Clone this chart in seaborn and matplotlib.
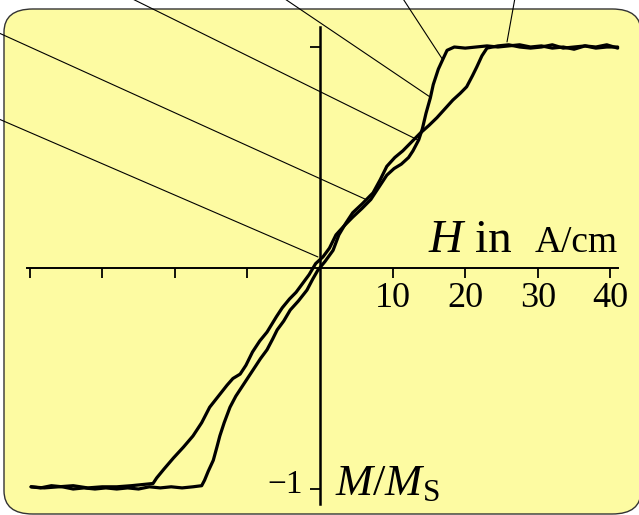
import numpy as np
import pandas as pd
import matplotlib
matplotlib.use("Agg")
from matplotlib import pyplot as plt
from matplotlib.patches import FancyBboxPatch
import seaborn as sns

# hysteresis loop (H in A/cm, M/Ms)
H_down = [41.0, 39.5, 38.0, 36.5, 35.0, 33.5, 32.0, 30.5, 29.0, 27.5, 26.0, 24.5, 23.0, 21.5,
          20.0, 18.5, 17.5, 17.0, 16.3, 15.6, 15.2, 14.6, 14.1, 13.6, 12.8, 12.2, 11.2, 10.2,
          9.2, 8.2, 7.0, 5.8, 4.5, 3.3, 2.2, 1.3, 0.4, -0.6, -1.5, -2.4, -3.3, -4.2, -5.2,
          -6.0, -7.3, -8.3, -9.3, -10.2, -11.0, -12.0, -12.8, -14.0, -15.2, -16.3, -17.5,
          -18.8, -20.2, -21.5, -22.5, -23.0, -24.5, -26.0, -28.0, -30.0, -32.0, -34.0, -36.0,
          -38.0, -39.8]
M_down = [0.995, 1.01, 1.0, 1.005, 0.99, 1.0, 0.995, 1.005, 1.0, 1.01, 1.005, 1.0, 1.005, 1.0,
          0.995, 1.0, 0.985, 0.95, 0.90, 0.83, 0.77, 0.70, 0.63, 0.58, 0.53, 0.50, 0.47, 0.45,
          0.42, 0.37, 0.31, 0.27, 0.23, 0.19, 0.15, 0.09, 0.05, 0.02, -0.03, -0.07, -0.11,
          -0.14, -0.18, -0.22, -0.29, -0.33, -0.38, -0.44, -0.48, -0.50, -0.53, -0.58, -0.63,
          -0.70, -0.76, -0.81, -0.86, -0.91, -0.95, -0.975, -0.98, -0.985, -0.99, -0.99,
          -0.995, -0.985, -0.99, -0.995, -0.99]

H_up = [-39.8, -38.5, -37.0, -35.5, -34.0, -32.5, -31.0, -29.5, -28.0, -26.5, -25.0, -23.5,
        -22.0, -20.5, -19.0, -17.5, -16.3, -15.9, -15.4, -14.7, -14.2, -13.8, -13.2, -12.4,
        -11.6, -11.0, -10.0, -9.2, -8.2, -7.3, -6.5, -5.9, -5.0, -4.1, -3.0, -1.8, -1.0, -0.3,
        0.7, 1.8, 2.6, 3.5, 4.5, 5.8, 7.3, 8.3, 9.2, 10.3, 11.4, 12.6, 13.8, 15.0, 16.1, 17.2,
        18.3, 19.3, 20.2, 21.0, 21.6, 22.3, 23.0, 24.5, 26.0, 27.5, 29.0, 30.5, 32.0, 33.5,
        35.0, 36.5, 38.0, 39.5, 41.0]
M_up = [-0.99, -0.995, -0.985, -0.99, -1.0, -0.995, -1.0, -0.995, -1.0, -0.995, -1.0, -0.99,
        -0.995, -0.99, -0.995, -0.99, -0.985, -0.96, -0.92, -0.87, -0.81, -0.76, -0.70, -0.63,
        -0.58, -0.55, -0.50, -0.46, -0.41, -0.37, -0.32, -0.28, -0.24, -0.19, -0.15, -0.10,
        -0.05, -0.01, 0.03, 0.08, 0.15, 0.20, 0.25, 0.29, 0.34, 0.40, 0.46, 0.50, 0.53, 0.57,
        0.61, 0.645, 0.68, 0.72, 0.76, 0.79, 0.82, 0.87, 0.91, 0.96, 0.995, 1.005, 1.01, 1.0,
        0.995, 1.0, 1.01, 0.995, 1.0, 1.005, 0.995, 1.0, 1.0]

x_ticks = [-40, -30, -20, -10, 10, 20, 30, 40]
x_tick_labels = ["", "", "", "", "10", "20", "30", "40"]
y_ticks = [-1, 1]

# leader lines: (start H, start M) -> (point on the loop)
leader_start = [(-26.6, 1.23), (-5.4, 1.23), (11.2, 1.23), (26.9, 1.23), (-45.0, 1.075), (-45.0, 0.685)]
leader_end = [(13.5, 0.579), (15.15, 0.774), (16.94, 0.941), (25.76, 1.023), (6.47, 0.308), (-0.28, 0.05)]

df = pd.concat([
    pd.DataFrame({"H": H_down, "M": M_down, "branch": "down"}),
    pd.DataFrame({"H": H_up, "M": M_up, "branch": "up"}),
])

sns.set_theme(style="white")
plt.rcParams["font.family"] = ["Liberation Serif", "DejaVu Serif"]
plt.rcParams["mathtext.fontset"] = "custom"
plt.rcParams["mathtext.rm"] = "Liberation Serif"
plt.rcParams["mathtext.it"] = "Liberation Serif:italic"
plt.rcParams["text.color"] = "black"

fig = plt.figure(figsize=(6.39, 5.15), dpi=100, facecolor="white")
box = FancyBboxPatch((4 / 639, 1 / 515), 637 / 639, 505 / 515,
                     boxstyle="round,pad=0,rounding_size=0.045",
                     transform=fig.transFigure, facecolor="#fdfba2",
                     edgecolor="#333333", linewidth=1.0, zorder=-10)
fig.patches.append(box)

ax = fig.add_axes([0, 0, 1, 1])
ax.patch.set_alpha(0)
ax.set_xlim(-44.08, 43.94)
ax.set_ylim(-1.1176, 1.2127)

sns.lineplot(data=df, x="H", y="M", units="branch", estimator=None, sort=False,
             color="black", linewidth=2.3, ax=ax, zorder=3)

for (xs, ys), (xe, ye) in zip(leader_start, leader_end):
    ax.plot([xs, xe], [ys, ye], color="black", linewidth=0.8, clip_on=False, zorder=4)

# axes through the origin
for side in ["top", "right"]:
    ax.spines[side].set_visible(False)
ax.spines["left"].set_position(("data", 0))
ax.spines["bottom"].set_position(("data", 0))
ax.spines["left"].set_bounds(-1.07, 1.09)
ax.spines["bottom"].set_bounds(-40.4, 41.05)
ax.spines["left"].set_linewidth(1.8)
ax.spines["bottom"].set_linewidth(1.4)
ax.spines["left"].set_color("black")
ax.spines["bottom"].set_color("black")

ax.set_xticks(x_ticks)
ax.set_xticklabels(x_tick_labels)
ax.set_yticks(y_ticks)
ax.set_yticklabels(["", ""])
ax.tick_params(axis="x", direction="out", length=7, width=1.3, pad=3,
               labelsize=26, colors="black", labelcolor="black", bottom=True)
ax.tick_params(axis="y", direction="out", length=7, width=1.3,
               colors="black", left=True)
ax.set_xlabel("")
ax.set_ylabel("")

ax.text(-2.34, -1.018, "\u22121", fontsize=24, ha="right", va="baseline", color="black")
ax.text(14.9, 0.072, r"$H$ in", fontsize=34, ha="left", va="baseline", color="black")
ax.text(41.05, 0.072, "A/cm", fontsize=27, ha="right", va="baseline", color="black")
ax.text(2.07, -1.027, r"$M/M_\mathrm{S}$", fontsize=32, ha="left", va="baseline", color="black")

plt.savefig("out.png", dpi=100)
